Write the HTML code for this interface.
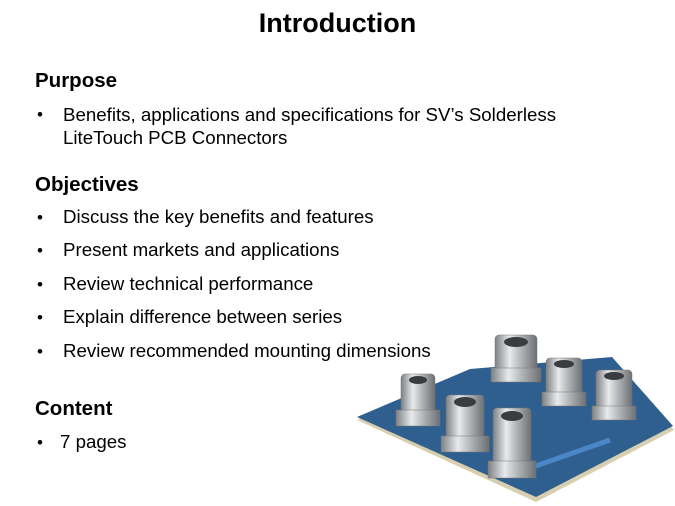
<!DOCTYPE html><html><head><style>
body{margin:0;width:675px;height:506px;background:#fff;font-family:"Liberation Sans",Arial,sans-serif;position:relative;overflow:hidden;color:#000}
.a{position:absolute;white-space:nowrap}
h1{position:absolute;top:8px;left:0;width:675px;text-align:center;margin:0;font-size:27px;font-weight:bold}
.h{font-size:20.5px;font-weight:bold;left:35px}
.b{font-size:18.7px;left:63px}
.d{font-size:17px;left:37px}
</style></head><body>
<h1>Introduction</h1>
<div class="a h" style="top:69px">Purpose</div>
<div class="a d" style="top:105px">•</div><div class="a b" style="top:103px;line-height:23px">Benefits, applications and specifications for SV’s Solderless<br>LiteTouch PCB Connectors</div>
<div class="a h" style="top:173px">Objectives</div>
<div class="a d" style="top:208px">•</div><div class="a b" style="top:206px">Discuss the key benefits and features</div>
<div class="a d" style="top:241px">•</div><div class="a b" style="top:239px">Present markets and applications</div>
<div class="a d" style="top:275px">•</div><div class="a b" style="top:273px">Review technical performance</div>
<div class="a d" style="top:308px">•</div><div class="a b" style="top:306px">Explain difference between series</div>
<div class="a d" style="top:342px">•</div><div class="a b" style="top:340px">Review recommended mounting dimensions</div>
<div class="a h" style="top:397px">Content</div>
<div class="a d" style="top:433px">•</div><div class="a b" style="top:431px;left:60px">7 pages</div>
<svg class="a" style="left:0;top:0" width="675" height="506">
<defs><linearGradient id="m" x1="0" x2="1"><stop offset="0" stop-color="#7d8084"/><stop offset=".35" stop-color="#e8eaec"/><stop offset=".6" stop-color="#b5b8bb"/><stop offset="1" stop-color="#6c6f73"/></linearGradient></defs>
<polygon points="357,420 470,372 612,360 674,430 536,502" fill="#d8cfb0"/>
<polygon points="357,417 470,369 612,357 673,426 536,497" fill="#2e5f8e"/>
<line x1="530" y1="468" x2="610" y2="440" stroke="#4a86c8" stroke-width="5"/>
<g fill="url(#m)" stroke="#777" stroke-width=".5">
<rect x="495" y="335" width="42" height="40" rx="4"/><rect x="491" y="368" width="50" height="14"/>
<rect x="546" y="358" width="36" height="40" rx="4"/><rect x="542" y="392" width="44" height="14"/>
<rect x="596" y="370" width="36" height="42" rx="4"/><rect x="592" y="406" width="44" height="14"/>
<rect x="401" y="374" width="34" height="44" rx="4"/><rect x="396" y="410" width="44" height="16"/>
<rect x="446" y="395" width="38" height="48" rx="4"/><rect x="441" y="436" width="48" height="16"/>
<rect x="493" y="408" width="38" height="60" rx="4"/><rect x="488" y="461" width="48" height="17"/>
</g>
<g fill="#3a3d40"><ellipse cx="516" cy="342" rx="12" ry="5"/><ellipse cx="564" cy="364" rx="10" ry="4"/><ellipse cx="614" cy="376" rx="10" ry="4"/><ellipse cx="418" cy="380" rx="9" ry="4"/><ellipse cx="465" cy="402" rx="11" ry="5"/><ellipse cx="512" cy="416" rx="11" ry="5"/></g>
</svg>
</body></html>
